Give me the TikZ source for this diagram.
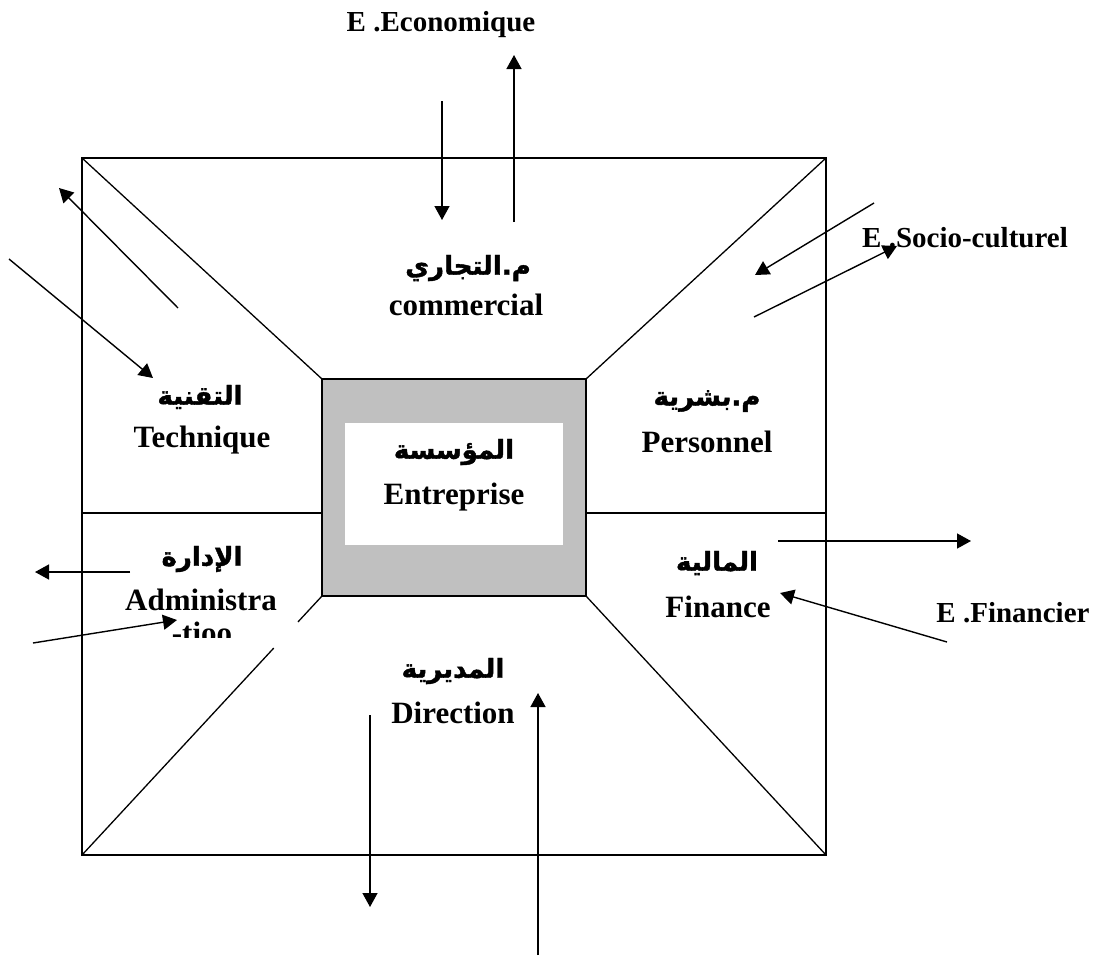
\documentclass[tikz,border=0pt]{standalone}
\usepackage{fontspec}
\setmainfont{Liberation Serif}
\newfontfamily\arabicfont[Script=Arabic,FakeBold=1.6]{DejaVu Sans}
\TeXXeTstate=1
\usetikzlibrary{arrows.meta,calc}
\definecolor{coregray}{HTML}{C0C0C0}
\newcommand\artext[1]{{\arabicfont\bfseries\beginR #1\endR}}

\begin{document}
\begin{tikzpicture}[x=1pt,y=-1pt,
  frame/.style={line width=1.9pt},
  rule/.style={line width=1.3pt},
  flow/.style={line width=1.4pt,-{Triangle[length=14pt,width=15pt]}},
  lab/.style={font=\fontsize{31}{36}\selectfont\bfseries,inner sep=0pt},
  arlab/.style={font=\fontsize{26}{30}\selectfont,inner sep=0pt},
  env/.style={font=\fontsize{29}{34}\selectfont\bfseries,inner sep=0pt}]
\useasboundingbox (0,0) rectangle (1102,956);

% corners of the outer square and of the core block
\coordinate (o1) at (82,158);  \coordinate (o2) at (826,158);
\coordinate (o3) at (826,855); \coordinate (o4) at (82,855);
\coordinate (i1) at (322,379); \coordinate (i2) at (586,379);
\coordinate (i3) at (586,596); \coordinate (i4) at (322,596);
\coordinate (lm) at (82,513);  \coordinate (ilm) at (322,513);
\coordinate (rm) at (826,513); \coordinate (irm) at (586,513);

% diagonals and side rules
\draw[rule] (o1) -- (i1);
\draw[rule] (o2) -- (i2);
\draw[rule] (o3) -- (i3);
\draw[rule] (i4) -- ($(o4)!0.9!(i4)$);
\draw[rule] ($(o4)!0.799!(i4)$) -- (o4);
\draw[rule] (lm) -- (ilm);
\draw[rule] (irm) -- (rm);

% outer square
\draw[frame] (o1) -- (o2) -- (o3) -- (o4) -- cycle;

% core block
\draw[rule,fill=coregray] (i1) rectangle (i3);
\node[fill=white,minimum width=218pt,minimum height=122pt,inner sep=0pt] (core) at (454,484) {};
\node[arlab] (coreAr) at (454,452) {\artext{المؤسسة}};
\node[lab] (coreLat) at (454,497) {Entreprise};

% department labels
\node[arlab] (techAr) at (200,397) {\artext{التقنية}};
\node[lab] (techLat) at (202,440) {Technique};
\node[arlab] (comAr) at (468,268) {\artext{م.التجاري}};
\node[lab] (comLat) at (466,305) {commercial};
\node[arlab] (persAr) at (707,401) {\artext{م.بشرية}};
\node[lab] (persLat) at (707,442) {Personnel};
\node[arlab] (admAr) at (202,559) {\artext{الإدارة}};
\node[lab] (admLat) at (201,600) {Administra};
\begin{scope}
  \clip (100,610) rectangle (300,637);
  \node[lab] (admLat2) at (202,633) {-tioo};
\end{scope}
\node[arlab] (finAr) at (717,563) {\artext{المالية}};
\node[lab] (finLat) at (718,607) {Finance};
\node[arlab] (dirAr) at (453,671) {\artext{المديرية}};
\node[lab] (dirLat) at (453,713) {Direction};

% environment labels
\node[env] (eco) at (441,25) {E .Economique};
\node[env] (soc) at (965,238) {E .Socio-culturel};
\node[env] (efin) at (1013,613) {E .Financier};

% exchange arrows: tail and tip points
\coordinate (a1s) at (442,101); \coordinate (a1e) at (442,220);
\coordinate (a2s) at (514,222); \coordinate (a2e) at (514,55);
\coordinate (a3s) at (178,308); \coordinate (a3e) at (59,188);
\coordinate (a4s) at (9,259);   \coordinate (a4e) at (153,378);
\coordinate (a5s) at (874,203); \coordinate (a5e) at (755,275);
\coordinate (a6s) at (754,317); \coordinate (a6e) at (897,246);
\coordinate (a7s) at (130,572); \coordinate (a7e) at (35,572);
\coordinate (a8s) at (33,643);  \coordinate (a8e) at (177,620);
\coordinate (a9s) at (778,541); \coordinate (a9e) at (971,541);
\coordinate (a10s) at (947,642); \coordinate (a10e) at (780,593);
\coordinate (a11s) at (370,715); \coordinate (a11e) at (370,907);
\coordinate (a12s) at (538,955); \coordinate (a12e) at (538,693);

\foreach \k in {1,...,12} \draw[flow] (a\k s) -- (a\k e);
\end{tikzpicture}
\end{document}
